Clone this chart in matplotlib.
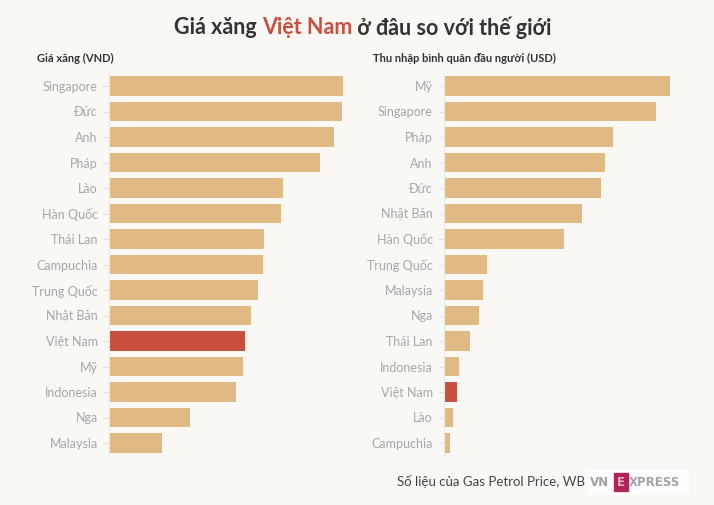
import matplotlib.pyplot as plt
from matplotlib.patches import Rectangle

plt.rcParams['font.family'] = ['Lato', 'DejaVu Sans']

# Giá xăng (VND)
gas_countries = ["Singapore", "Đức", "Anh", "Pháp", "Lào", "Hàn Quốc", "Thái Lan",
                 "Campuchia", "Trung Quốc", "Nhật Bản", "Việt Nam", "Mỹ",
                 "Indonesia", "Nga", "Malaysia"]
gas_prices = [34400, 34300, 33100, 31000, 25600, 25300, 22800,
              22600, 21900, 20900, 20000, 19700, 18700, 11900, 7800]

# Thu nhập bình quân đầu người (USD)
income_countries = ["Mỹ", "Singapore", "Pháp", "Anh", "Đức", "Nhật Bản", "Hàn Quốc",
                    "Trung Quốc", "Malaysia", "Nga", "Thái Lan", "Indonesia",
                    "Việt Nam", "Lào", "Campuchia"]
income = [59500, 55800, 44500, 42400, 41300, 36300, 31600,
          11300, 10300, 9200, 6800, 3900, 3400, 2400, 1600]

BG = "#faf8f5"
TAN = "#e1b983"
RED = "#c9503f"

W, H = 714, 505
fig = plt.figure(figsize=(W / 100, H / 100), dpi=100, facecolor=BG)


def panel(x0, names, values, xmax):
    ax = fig.add_axes([x0 / W, 1 - 455.75 / H, 246 / W, 382.5 / H])
    ax.set_facecolor(BG)
    colors = [RED if n == "Việt Nam" else TAN for n in names]
    ax.barh(range(len(names)), values, height=0.75, color=colors)
    ax.set_ylim(len(names) - 0.5, -0.5)
    ax.set_xlim(0, xmax)
    ax.set_yticks(range(len(names)))
    ax.set_yticklabels(names, fontsize=9, color="#a6a6a6")
    ax.tick_params(axis="y", length=4, color="#e4e0da", pad=4)
    ax.set_xticks([])
    for s in ["top", "right", "bottom"]:
        ax.spines[s].set_visible(False)
    ax.spines["left"].set_color("#ebe7e1")
    return ax


panel(109, gas_countries, gas_prices, 36200)
panel(444, income_countries, income, 64700)

# tiêu đề nhiều màu
fig.canvas.draw()
r = fig.canvas.get_renderer()
parts = [("Giá xăng ", "#333333"), ("Việt Nam", RED), (" ở đâu so với thế giới", "#333333")]
texts = []
for s, c in parts:
    texts.append(fig.text(0, 1 - 28 / H, s, fontsize=15.5, fontweight="bold",
                          color=c, va="center", ha="left"))
widths = [t.get_window_extent(r).width for t in texts]
x = (W - sum(widths)) / 2 + 6
for t, w in zip(texts, widths):
    t.set_x(x / W)
    x += w

fig.text(37 / W, 1 - 58 / H, "Giá xăng (VND)", fontsize=8, fontweight="bold",
         color="#333333", va="center")
fig.text(373 / W, 1 - 58 / H, "Thu nhập bình quân đầu người (USD)", fontsize=8,
         fontweight="bold", color="#333333", va="center")

fig.text(585 / W, 1 - 482 / H, "Số liệu của Gas Petrol Price, WB", fontsize=9.5,
         color="#444444", va="center", ha="right")

# logo VnExpress
fig.patches.append(Rectangle((588 / W, 1 - 494 / H), 100 / W, 24 / H,
                             transform=fig.transFigure, color="#fdfdfd"))
fig.text(590 / W, 1 - 482 / H, "VN", fontsize=8.5, fontweight="bold", color="#a3a3a3",
         va="center", ha="left", family="DejaVu Sans")
fig.patches.append(Rectangle((614 / W, 1 - 491 / H), 14 / W, 18 / H,
                             transform=fig.transFigure, color="#b0245a"))
fig.text(621 / W, 1 - 482 / H, "E", fontsize=8.5, fontweight="bold", color="#e7b5c8",
         va="center", ha="center", family="DejaVu Sans")
fig.text(629 / W, 1 - 482 / H, "XPRESS", fontsize=8.5, fontweight="bold", color="#a3a3a3",
         va="center", ha="left", family="DejaVu Sans")

fig.savefig("out.png", dpi=100, facecolor=BG)
